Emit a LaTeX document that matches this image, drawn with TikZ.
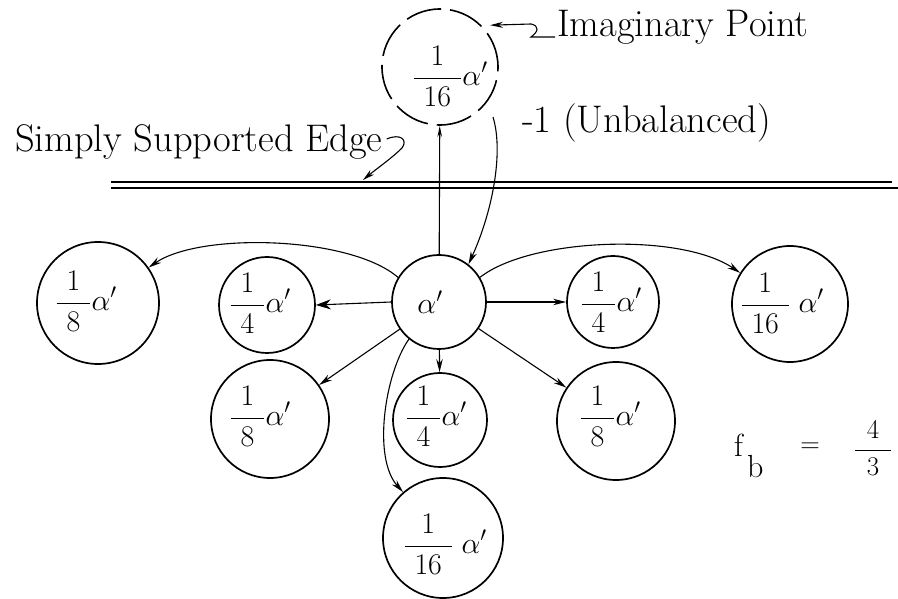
\RequirePackage{fix-cm}
\documentclass[tikz,border=0pt]{standalone}
\usetikzlibrary{arrows.meta}
% display fraction with a widened bar, as in the hand-set notes
\newcommand{\wfr}[2]{\displaystyle\frac{\mkern6mu#1\mkern6mu}{\mkern6mu#2\mkern6mu}}

\begin{document}
\begin{tikzpicture}[x=1pt,y=1pt,
  cnode/.style={circle,draw,line width=1.7pt,inner sep=0pt,minimum size=#1},
  ctext/.style={inner sep=0pt,font=\fontsize{30}{36}\selectfont},
  lbl/.style={inner sep=0pt,font=\fontsize{38.5}{46}\selectfont},
  con/.style={line width=1.1pt,-{Stealth[length=13pt,width=6.5pt]}},
  bigcon/.style={line width=1.1pt,-{Stealth[length=15pt,width=10pt]}},
  ptr/.style={line width=1.1pt,-{Stealth[length=12pt,width=6pt]}},
  edgeline/.style={line width=1.4pt}]

\fill[white] (0,0) rectangle (898,598);
\useasboundingbox (0,0) rectangle (898,598);

% simply supported edge
\coordinate (e1) at (111,416); \coordinate (e2) at (892,416);
\coordinate (e3) at (111,410); \coordinate (e4) at (898,410);
\draw[edgeline] (e1) -- (e2);
\draw[edgeline] (e3) -- (e4);

% imaginary point beyond the edge
\node[cnode=116pt,line width=1.6pt,dash pattern=on 36pt off 9pt] (D) at (440,531) {};
\node[ctext] (Dt) at ([shift={(10,-9)}]D.center) {$\wfr{1}{16}\alpha'$};

% central point and its neighbours
\node[cnode=94pt]  (A)  at (439,296) {};
\node[ctext] (At) at ([shift={(-9,0)}]A.center) {$\alpha'$};

\node[cnode=122pt] (L1) at (98,295) {};
\node[ctext] (L1t) at ([shift={(-12,2)}]L1.center) {$\wfr{1}{8}\alpha'$};

\node[cnode=96pt]  (L2) at (267,293) {};
\node[ctext] (L2t) at ([shift={(-7,2)}]L2.center) {$\wfr{1}{4}\alpha'$};

\node[cnode=92pt]  (R2) at (613,296) {};
\node[ctext] (R2t) at ([shift={(-2,0)}]R2.center) {$\wfr{1}{4}\alpha'$};

\node[cnode=116pt] (R1) at (790,294) {};
\node[ctext] (R1t) at ([shift={(-8,1)}]R1.center) {$\wfr{1}{16}\;\alpha'$};

\node[cnode=118pt] (B1) at (270,179) {};
\node[ctext] (B1t) at ([shift={(-10,3)}]B1.center) {$\wfr{1}{8}\alpha'$};

\node[cnode=94pt]  (B2) at (440,178) {};
\node[ctext] (B2t) at ([shift={(-4,4)}]B2.center) {$\wfr{1}{4}\alpha'$};

\node[cnode=118pt] (B3) at (616,177) {};
\node[ctext] (B3t) at ([shift={(-6,5)}]B3.center) {$\wfr{1}{8}\alpha'$};

\node[cnode=120pt] (B4) at (443,60) {};
\node[ctext] (B4t) at ([shift={(2,-6)}]B4.center) {$\wfr{1}{16}\;\alpha'$};

% connectors from the central point
\draw[con,-{Stealth[length=11pt,width=4.5pt]}] (A) -- (D);
\draw[con] ([shift={(53,-50)}]D.center) .. controls (504,445) and (492,385) .. (A.52);
\draw[con] (A.149) .. controls (350,362) and (200,366) .. (L1.35);
\draw[bigcon] (A.west) -- (L2.east);
\draw[con] (A.east) -- (R2.west);
\draw[con] (A.31) .. controls (530,360) and (680,366) .. (R1.148);
\draw[con] (A) -- (B1);
\draw[con] (A) -- (B2);
\draw[con] (A) -- (B3);
\draw[con] (A.231) .. controls (385,225) and (372,140) .. (B4.131);

% labels
\node[lbl,anchor=base west] (sse) at (15,446) {Simply Supported Edge};
\node[lbl,anchor=base west] (ip)  at (557,561) {Imaginary Point};
\node[lbl,anchor=base west] (ub)  at (522,465) {-1 (Unbalanced)};

\coordinate (etip) at (363,418);
\draw[ptr] ([shift={(4,13)}]sse.base east) .. controls +(14,6) and +(6,8) .. (402,450)
  .. controls (392,440) and (375,428) .. (etip);
\draw[ptr,-{Stealth[length=13pt,width=6pt]}] ([xshift=-2pt]ip.base west) -- (531,561)
  .. controls (538,566) and (540,572) .. (531,574) -- ([shift={(5,4)}]D.40);

% bending factor
\node[inner sep=0pt,font=\fontsize{32}{38}\selectfont,anchor=base west] (f) at (734,141) {f};
\node[inner sep=0pt,font=\fontsize{32}{38}\selectfont,anchor=base west] (b) at (747,121) {b};
\node[inner sep=0pt,font=\fontsize{27}{32}\selectfont] (eq) at (810,150) {$=$};
\node[inner sep=0pt,font=\fontsize{27}{32}\selectfont] (fb) at (873,150)
  {$\displaystyle\frac{\mkern8mu4\mkern8mu}{\mkern8mu3\mkern8mu}$};
\end{tikzpicture}
\end{document}
